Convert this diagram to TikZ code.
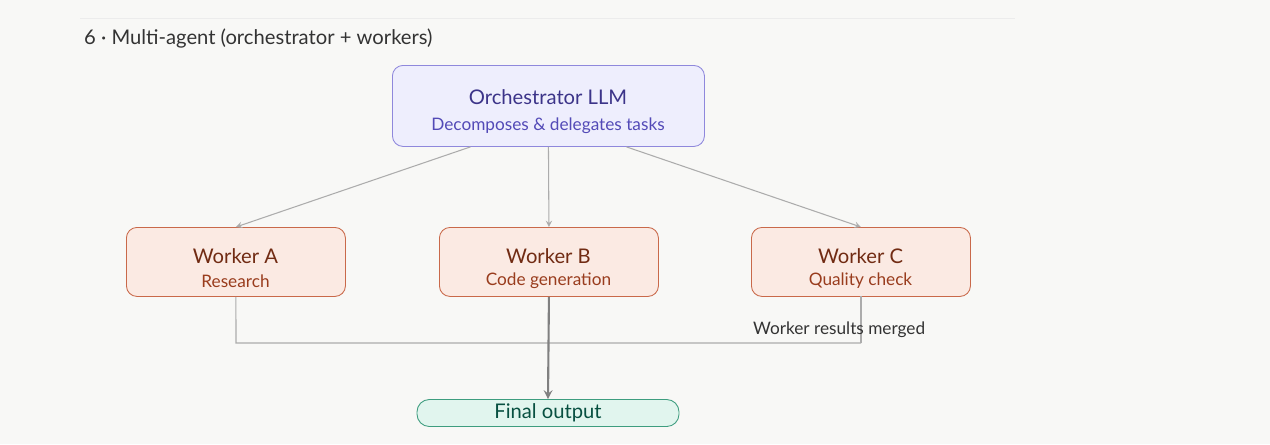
\documentclass[tikz,border=0pt]{standalone}
\usepackage{fontspec}
\setmainfont{Lato}
\usetikzlibrary{positioning}
\definecolor{bg}{HTML}{F8F8F6}
\definecolor{orchfill}{HTML}{EEEEFD}
\definecolor{orchdraw}{HTML}{8F88DC}
\definecolor{orchtitle}{HTML}{3C3489}
\definecolor{orchsub}{HTML}{534AB7}
\definecolor{workfill}{HTML}{FBEAE3}
\definecolor{workdraw}{HTML}{C9694A}
\definecolor{worktitle}{HTML}{712B13}
\definecolor{worksub}{HTML}{993C1D}
\definecolor{outfill}{HTML}{E1F5EE}
\definecolor{outdraw}{HTML}{3E9D7F}
\definecolor{outtext}{HTML}{085041}
\tikzset{
  box/.style={rounded corners=6pt, line width=0.5pt, inner sep=0pt, anchor=north west},
  orch/.style={box, fill=orchfill, draw=orchdraw, minimum width=312*0.02cm, minimum height=81*0.02cm},
  worker/.style={box, fill=workfill, draw=workdraw, minimum width=219*0.02cm, minimum height=69*0.02cm},
  final/.style={rounded corners=7pt, line width=0.5pt, fill=outfill, draw=outdraw, inner sep=0pt,
    minimum width=262*0.02cm, minimum height=27*0.02cm, text=outtext, font=\fontsize{11.5}{12}\selectfont},
  ttl/.style={font=\fontsize{11.5}{12}\selectfont},
  sub/.style={font=\fontsize{9.8}{11}\selectfont},
  link/.style={draw=gray!65, line width=0.6pt, -stealth},
  merge/.style={draw=gray!65, line width=0.6pt},
}
\begin{document}
\begin{tikzpicture}[x=0.02cm, y=-0.02cm]
  \fill[bg] (0,0) rectangle (1270,444);
  \useasboundingbox (0,0) rectangle (1270,444);
  \draw[gray!15, line width=0.5pt] (80,18) -- (1015,18);
  \node[anchor=west, font=\fontsize{11.5}{12}\selectfont, text=black!80] (title) at (78,39) {6 · Multi-agent (orchestrator + workers)};

  % orchestrator
  \node[orch] (orch) at (392,65) {};
  \node[ttl, text=orchtitle] at (548,97) {Orchestrator LLM};
  \node[sub, text=orchsub] at (548,126) {Decomposes \& delegates tasks};

  % workers
  \foreach \name/\x/\label/\role in {wa/126/Worker A/Research, wb/439/Worker B/Code generation, wc/751/Worker C/Quality check} {
    \node[worker] (\name) at (\x,227) {};
    \node[ttl, text=worktitle] at (\x+109.5,256) {\label};
    \node[sub, text=worksub] at (\x+109.5,281) {\role};
  }

  % delegation
  \draw[link] (orch.south) ++(-78,0) -- (wa.north);
  \draw[link] (orch.south) -- (wb.north);
  \draw[link] (orch.south) ++(78,0) -- (wc.north);

  % merge
  \node[final] (out) at (548,413) {Final output};
  \coordinate (join) at (548,343);
  \draw[merge] (wa.south) -- (236,343) -- (861,343);
  \draw[merge] (861,296) -- (861,343);
  \draw[draw=gray, line width=1.2pt, -stealth] (wb.south) -- (out.north);
  \node[anchor=north west, font=\fontsize{9.8}{11}\selectfont, text=black!80] (mergelbl) at (747,316) {Worker results merged};
\end{tikzpicture}
\end{document}
